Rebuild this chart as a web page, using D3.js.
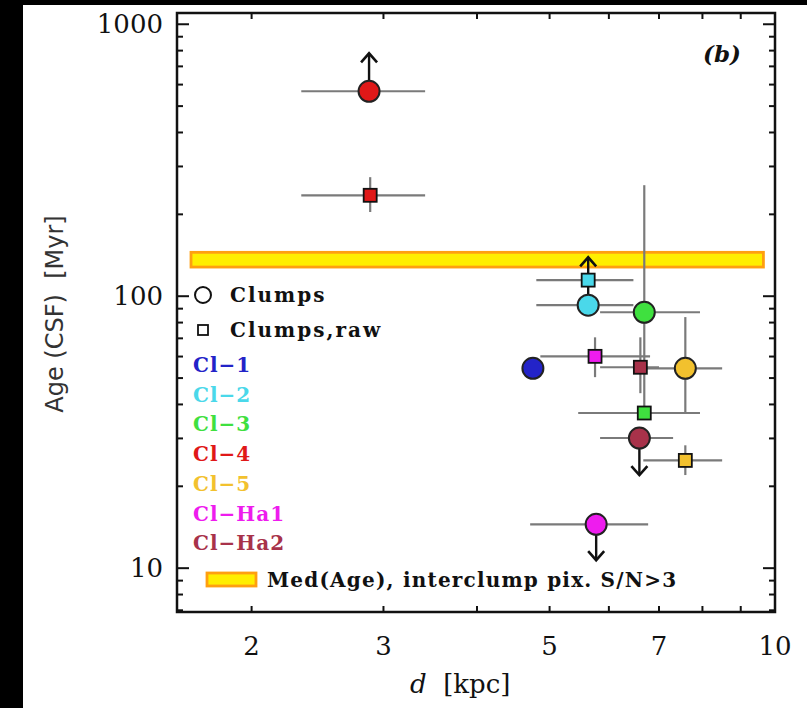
<!DOCTYPE html>
<html>
<head>
<meta charset="utf-8">
<script src="https://cdn.jsdelivr.net/npm/d3@7"></script>
<style>
  body { margin:0; background:#000; }
  text { font-family: "DejaVu Serif", serif; }
</style>
</head>
<body>
<div id="chart-area"></div>
<script>
// Clump labels and colours
var clumpNames  = ["Cl-1", "Cl-2", "Cl-3", "Cl-4", "Cl-5", "Cl-Ha1", "Cl-Ha2"];
var clumpColors = ["#2323c8", "#4ad8ea", "#3fe03f", "#e01818", "#f2c12e", "#ee1cee", "#a8324a"];

// Clumps (circles): d [kpc], Age [Myr], errors, limit arrow tip
var circD     = [4.75, 5.63, 6.69, 2.87, 7.59, 5.77, 6.59];
var circDLo   = [4.62, 4.80, 5.84, 2.33, 6.60, 4.71, 5.84];
var circDHi   = [4.88, 6.47, 7.94, 3.41, 8.50, 6.77, 7.31];
var circAge   = [54.3, 92.7, 87.3, 567, 54.3, 14.5, 30.1];
var circAgeLo = [null, null, 37.2, null, 37.2, null, null];
var circAgeHi = [null, null, 256, null, 83.8, null, null];
var circTip   = [null, 139, null, 782, null, 10.7, 22.0];

// Clumps, raw (squares)
var sqD     = [null, 5.63, 6.69, 2.88, 7.59, 5.75, 6.61];
var sqDLo   = [null, 4.80, 5.46, 2.33, 6.67, 4.86, 5.84];
var sqDHi   = [null, 6.47, 7.94, 3.41, 8.50, 6.81, 7.00];
var sqAge   = [null, 114.6, 37.2, 235, 24.9, 60.1, 54.8];
var sqAgeLo = [null, null, null, 204, 22.0, 50.4, 44.0];
var sqAgeHi = [null, null, null, 274, 28.3, 70.6, 70.6];

// Median age of interclump pixels (band)
var medAge = [128, 145];
var medD = [1.66, 9.65];

var xTickLabels = [2, 3, 5, 7, 10];
var xMinor = [2, 3, 4, 5, 6, 7, 8, 9];
var yMajor = [10, 100, 1000];
var yMinor = [7, 8, 9, 20, 30, 40, 50, 60, 70, 80, 90, 200, 300, 400, 500, 600, 700, 800, 900];

var margin = { left:177, right:32, top:13, bottom:96 },
    width = 807 - margin.left - margin.right,
    height = 708 - margin.top - margin.bottom;

var svg = d3.select("#chart-area")
    .append("svg")
    .attr("width", 807)
    .attr("height", 708);

svg.append("rect")
    .attr("x", 23).attr("y", 5)
    .attr("width", 784).attr("height", 703)
    .attr("fill", "#fff");

var g = svg.append("g")
    .attr("transform", "translate(" + margin.left + "," + margin.top + ")");

// Scales
var x = d3.scaleLog().domain([1.59, 10]).range([0, width]);
var y = d3.scaleLog().domain([6.9, 1100]).range([height, 0]);

// Median band
g.append("rect")
    .attr("x", x(medD[0]))
    .attr("width", x(medD[1]) - x(medD[0]))
    .attr("y", y(medAge[1]))
    .attr("height", y(medAge[0]) - y(medAge[1]))
    .attr("fill", "#ffee00")
    .attr("stroke", "#ff9f10")
    .attr("stroke-width", 2.8);

// Error bars
var errCol = "#7a7a7a", errW = 2.2;
function hbar(lo, hi, age) {
    g.append("line")
        .attr("x1", x(lo)).attr("x2", x(hi))
        .attr("y1", y(age)).attr("y2", y(age))
        .attr("stroke", errCol).attr("stroke-width", errW);
}
function vbar(d, lo, hi) {
    g.append("line")
        .attr("x1", x(d)).attr("x2", x(d))
        .attr("y1", y(lo)).attr("y2", y(hi))
        .attr("stroke", errCol).attr("stroke-width", errW);
}
function arrow(d, from, tip) {
    var up = tip > from, h = up ? 9 : -9;
    var ax = x(d), ay = y(tip);
    g.append("line")
        .attr("x1", ax).attr("x2", ax)
        .attr("y1", y(from)).attr("y2", ay)
        .attr("stroke", "#111").attr("stroke-width", 2.4);
    g.append("path")
        .attr("d", "M" + (ax - 8) + "," + (ay + h) + "L" + ax + "," + ay + "L" + (ax + 8) + "," + (ay + h))
        .attr("fill", "none")
        .attr("stroke", "#111").attr("stroke-width", 2.6);
}

clumpNames.forEach(function(n, i) {
    if (sqD[i] != null) {
        hbar(sqDLo[i], sqDHi[i], sqAge[i]);
        if (sqAgeLo[i] != null) vbar(sqD[i], sqAgeLo[i], sqAgeHi[i]);
    }
    hbar(circDLo[i], circDHi[i], circAge[i]);
    if (circAgeLo[i] != null) vbar(circD[i], circAgeLo[i], circAgeHi[i]);
    if (circTip[i] != null) arrow(circD[i], circAge[i], circTip[i]);
});

// Squares
clumpNames.forEach(function(n, i) {
    if (sqD[i] == null) return;
    g.append("rect")
        .attr("x", x(sqD[i]) - 6.5).attr("y", y(sqAge[i]) - 6.5)
        .attr("width", 13).attr("height", 13)
        .attr("fill", clumpColors[i])
        .attr("stroke", "#111").attr("stroke-width", 1.8);
});

// Circles
clumpNames.forEach(function(n, i) {
    g.append("circle")
        .attr("cx", x(circD[i])).attr("cy", y(circAge[i]))
        .attr("r", 10.5)
        .attr("fill", clumpColors[i])
        .attr("stroke", "#222").attr("stroke-width", 2);
});

// Axes (ticks inside, mirrored)
function yTicks(vals, len) {
    vals.forEach(function(v) {
        g.append("line").attr("x1", 0).attr("x2", len)
            .attr("y1", y(v)).attr("y2", y(v))
            .attr("stroke", "#111").attr("stroke-width", 2);
        g.append("line").attr("x1", width).attr("x2", width - len)
            .attr("y1", y(v)).attr("y2", y(v))
            .attr("stroke", "#111").attr("stroke-width", 2);
    });
}
yTicks(yMajor, 12);
yTicks(yMinor, 6);
xMinor.forEach(function(v) {
    g.append("line").attr("x1", x(v)).attr("x2", x(v))
        .attr("y1", height).attr("y2", height - 6)
        .attr("stroke", "#111").attr("stroke-width", 2);
    g.append("line").attr("x1", x(v)).attr("x2", x(v))
        .attr("y1", 0).attr("y2", 6)
        .attr("stroke", "#111").attr("stroke-width", 2);
});

g.append("rect")
    .attr("width", width).attr("height", height)
    .attr("fill", "none")
    .attr("stroke", "#111").attr("stroke-width", 2.5);

// Tick labels
yMajor.forEach(function(v) {
    g.append("text")
        .attr("x", -14).attr("y", y(v) + 9)
        .attr("text-anchor", "end")
        .attr("font-size", "26px")
        .attr("fill", "#111")
        .text(v);
});
xTickLabels.forEach(function(v) {
    g.append("text")
        .attr("x", x(v)).attr("y", height + 43)
        .attr("text-anchor", "middle")
        .attr("font-size", "26px")
        .attr("fill", "#111")
        .text(v);
});

// Axis titles
svg.append("text")
    .attr("transform", "translate(63,314) rotate(-90)")
    .attr("text-anchor", "middle")
    .style("font-family", "'DejaVu Sans', sans-serif")
    .attr("font-size", "24px")
    .attr("fill", "#333")
    .attr("xml:space", "preserve")
    .text("Age (CSF)  [Myr]");

var xl = svg.append("text")
    .attr("x", 410).attr("y", 693)
    .attr("font-size", "26px")
    .attr("fill", "#111")
    .attr("xml:space", "preserve");
xl.append("tspan").attr("font-style", "italic").text("d");
xl.append("tspan").text("  [kpc]");

svg.append("text")
    .attr("x", 703).attr("y", 62)
    .attr("font-size", "23px")
    .attr("font-style", "italic")
    .attr("font-weight", "bold")
    .attr("fill", "#111")
    .text("(b)");

// Legend
var lg = svg.append("g").attr("font-weight", "bold").attr("font-size", "20px");
lg.append("circle").attr("cx", 203).attr("cy", 295).attr("r", 8)
    .attr("fill", "none").attr("stroke", "#111").attr("stroke-width", 2);
lg.append("text").attr("x", 230).attr("y", 302).attr("fill", "#111")
    .attr("letter-spacing", "2px").text("Clumps");
lg.append("rect").attr("x", 198).attr("y", 325).attr("width", 10).attr("height", 10)
    .attr("fill", "none").attr("stroke", "#111").attr("stroke-width", 1.8);
lg.append("text").attr("x", 230).attr("y", 337).attr("fill", "#111")
    .attr("letter-spacing", "2px").text("Clumps,raw");
clumpNames.forEach(function(n, i) {
    lg.append("text")
        .attr("x", 193).attr("y", 372 + i * 29.7)
        .attr("fill", clumpColors[i])
        .attr("letter-spacing", "1px")
        .text(n.replace("-", "\u2212"));
});
lg.append("rect").attr("x", 207).attr("y", 573).attr("width", 49).attr("height", 13)
    .attr("fill", "#ffee00").attr("stroke", "#ff9f10").attr("stroke-width", 2.8);
lg.append("text").attr("x", 267).attr("y", 587).attr("fill", "#111")
    .attr("letter-spacing", "1.2px")
    .text("Med(Age), interclump pix. S/N>3");
</script>
</body>
</html>
